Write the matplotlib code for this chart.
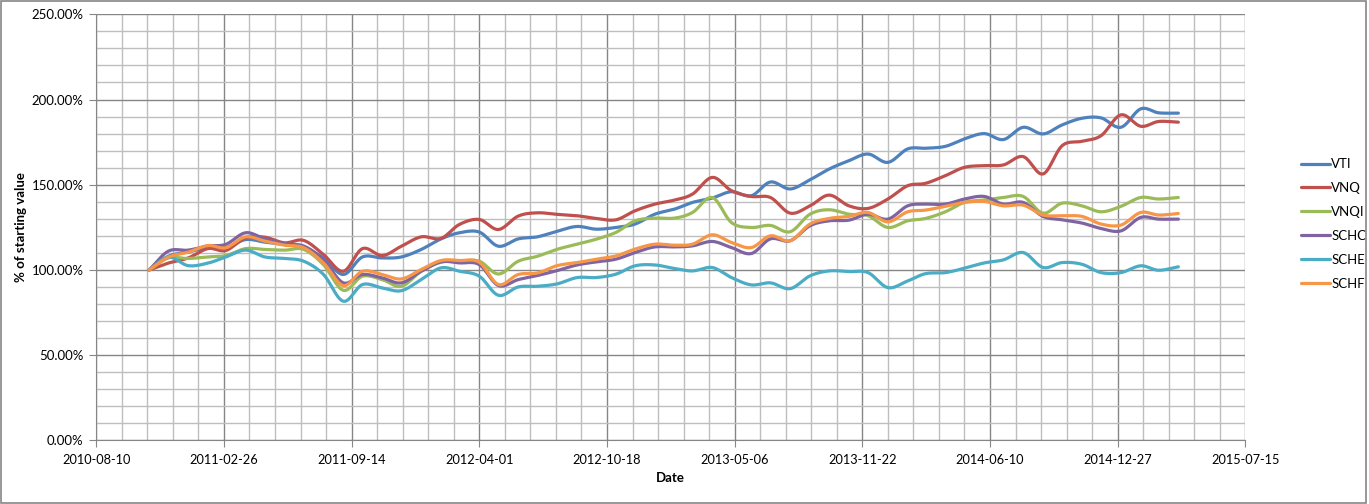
import numpy as np
import pandas as pd
import matplotlib
matplotlib.use("Agg")
import matplotlib.pyplot as plt
import matplotlib.dates as mdates
from matplotlib.ticker import MultipleLocator, FuncFormatter

plt.rcParams['font.family'] = ['Lato', 'DejaVu Sans']

# monthly observations, Nov 2010 -> Apr 2015 (% of starting value)
dates = pd.date_range("2010-11-01", "2015-04-01", freq="MS")

vti = [100, 108, 110.5, 113, 113, 117.8, 116.3, 114.9, 113, 107, 97.3, 107.6, 107, 107.6,
       112, 118.2, 121.8, 122.2, 113.9, 118.2, 119.4, 122.7, 125.5, 123.9, 124.9, 126.9,
       132.7, 135.7, 139.6, 142.2, 145.9, 143.5, 151.6, 147.5, 152.9, 159.2, 164.1, 168,
       163.1, 171, 171.4, 172.5, 176.9, 180, 176.5, 183.7, 179.8, 185.1, 189, 189.2, 183.7,
       194.5, 192.2, 192]
vnq = [100, 104, 107, 112.5, 111.4, 118.8, 119.2, 115.9, 117.3, 109, 99.2, 112.5, 108.4,
       113.9, 119.4, 118.5, 126.7, 129.6, 123.7, 131.6, 133.5, 132.6, 131.8, 130.2, 129.4,
       134.7, 138.6, 141, 144.5, 154.3, 146.5, 143.1, 142.5, 133.3, 137.6, 143.9, 137.6,
       136.1, 141.6, 149.4, 150.8, 155.3, 160.2, 161.2, 161.6, 166.5, 156.3, 172.9, 175.5,
       178.8, 191, 184.3, 187.1, 186.7]
vnqi = [100, 107, 106.7, 107.6, 108.4, 112.5, 112, 111.6, 112, 103, 88, 96.3, 94.3, 90.4,
        99.2, 104.5, 105.1, 105.1, 97.6, 105.1, 108, 112.1, 115.1, 118, 122, 128.8, 130.4,
        130.4, 133.7, 142.5, 127.8, 124.9, 126.1, 122.4, 132.7, 135.3, 132.7, 131.8, 124.9,
        128.8, 130.2, 134.1, 139.6, 141, 142.5, 143.1, 133.3, 139.2, 137.6, 134.1, 137.3,
        142.5, 141.6, 142.5]
schc = [100, 111, 111.6, 114, 115, 121.8, 118.2, 115.3, 114, 106, 92.4, 97.3, 95.3, 92.4,
        99.2, 104.7, 104.1, 103.1, 90.8, 94.3, 96.7, 99.6, 102.9, 104.7, 106.3, 110.2, 113.5,
        113.5, 114.1, 116.7, 113.1, 109.6, 118.2, 117.1, 125.9, 128.8, 129.2, 132.7, 129.8,
        137.6, 138.6, 138.6, 141.6, 143.1, 138.6, 139.6, 131.4, 129.4, 127.5, 124.3, 122.9,
        130.8, 129.8, 129.8]
sche = [100, 107.5, 102.5, 104, 107.6, 111.6, 107.6, 106.7, 105.1, 97.3, 81.6, 91.4, 89.4,
        87.8, 94.3, 101.2, 99.2, 96.3, 85.1, 90, 90.4, 91.8, 95.5, 95.5, 97.5, 102.4, 102.9,
        100.8, 99.4, 101.4, 95.5, 91.2, 92.4, 89, 96.5, 99.4, 99, 98.4, 89.6, 93.5, 97.8, 98.4,
        101, 104.1, 105.9, 110.2, 101.4, 104.3, 103.3, 98.4, 98.4, 102.4, 99.8, 101.8]
schf = [100, 107.5, 110.4, 114.3, 113, 119.4, 116.9, 114.5, 113, 104, 90.8, 99.2, 97.3, 94.7,
        100.2, 105.5, 105.5, 104.5, 91.4, 97.3, 98.2, 102.5, 104.3, 106.3, 108.2, 112.2, 115.1,
        114.5, 115.1, 120.6, 116.1, 113.1, 120, 117.1, 126.9, 130.2, 131.4, 133.7, 128.2, 134.1,
        135.1, 137.3, 139.6, 140.2, 137.6, 138, 132.2, 131.8, 131.4, 126.9, 126.3, 133.7, 132.2,
        133.1]

names = ["VTI", "VNQ", "VNQI", "SCHC", "SCHE", "SCHF"]
series = [vti, vnq, vnqi, schc, sche, schf]
colors = ["#4F81BD", "#C0504D", "#9BBB59", "#8064A2", "#4BACC6", "#F79646"]


def smooth(x, y, n=12):
    # Catmull-Rom curve through the points, like Excel's "smoothed line"
    x = np.asarray(x, float)
    y = np.asarray(y, float)
    px = np.concatenate([[2 * x[0] - x[1]], x, [2 * x[-1] - x[-2]]])
    py = np.concatenate([[2 * y[0] - y[1]], y, [2 * y[-1] - y[-2]]])
    t = np.linspace(0, 1, n, endpoint=False)
    xs, ys = [], []
    for i in range(1, len(px) - 2):
        for p, out in ((px, xs), (py, ys)):
            p0, p1, p2, p3 = p[i - 1], p[i], p[i + 1], p[i + 2]
            out.extend(0.5 * (2 * p1 + (-p0 + p2) * t + (2 * p0 - 5 * p1 + 4 * p2 - p3) * t ** 2
                              + (-p0 + 3 * p1 - 3 * p2 + p3) * t ** 3))
    xs.append(x[-1])
    ys.append(y[-1])
    return np.array(xs), np.array(ys)


fig = plt.figure(figsize=(13.69, 5.04), dpi=100)
ax = fig.add_axes([0.0703, 0.1264, 0.8394, 0.8452])

xnum = mdates.date2num(dates)
for name, vals, c in zip(names, series, colors):
    sx, sy = smooth(xnum, np.array(vals) / 100.0)
    ax.plot(sx, sy, color=c, lw=2.3, label=name, solid_capstyle="round")

x0 = mdates.date2num(pd.Timestamp("2010-08-10"))
x1 = mdates.date2num(pd.Timestamp("2015-07-15"))
ax.set_xlim(x0, x1)
ax.set_ylim(0, 2.5)

ax.set_xticks(np.arange(x0, x1 + 1, 200))
ax.set_xticks(np.arange(x0, x1 + 1, 40), minor=True)
ax.xaxis.set_major_formatter(mdates.DateFormatter("%Y-%m-%d"))
ax.yaxis.set_major_locator(MultipleLocator(0.5))
ax.yaxis.set_minor_locator(MultipleLocator(0.1))
ax.yaxis.set_major_formatter(FuncFormatter(lambda v, p: f"{v * 100:.2f}%"))

ax.grid(which="major", color="#868686", lw=1.0)
ax.grid(which="minor", color="#BEBEBE", lw=1.0)
ax.set_axisbelow(True)
for s in ["top", "right"]:
    ax.spines[s].set_visible(False)
for s in ["left", "bottom"]:
    ax.spines[s].set_color("#868686")
ax.tick_params(which="major", length=5, color="#868686", labelsize=9.5, pad=4)
ax.tick_params(which="minor", length=0)
ax.tick_params(axis="x", pad=5, labelsize=9.2)

ax.set_xlabel("Date", fontsize=9.5, fontweight="bold", labelpad=4)
ax.set_ylabel("% of starting value", fontsize=9.5, fontweight="bold", labelpad=3)

ax.legend(loc="center left", bbox_to_anchor=(1.038, 0.508), frameon=False, fontsize=9.5,
          handlelength=2.2, handletextpad=0.1, labelspacing=0.9)

fig.patches.append(plt.Rectangle((0.001, 0.002), 0.997, 0.996, transform=fig.transFigure,
                                 fill=False, edgecolor="#868686", lw=1.2))

fig.savefig("out.png", dpi=100)
